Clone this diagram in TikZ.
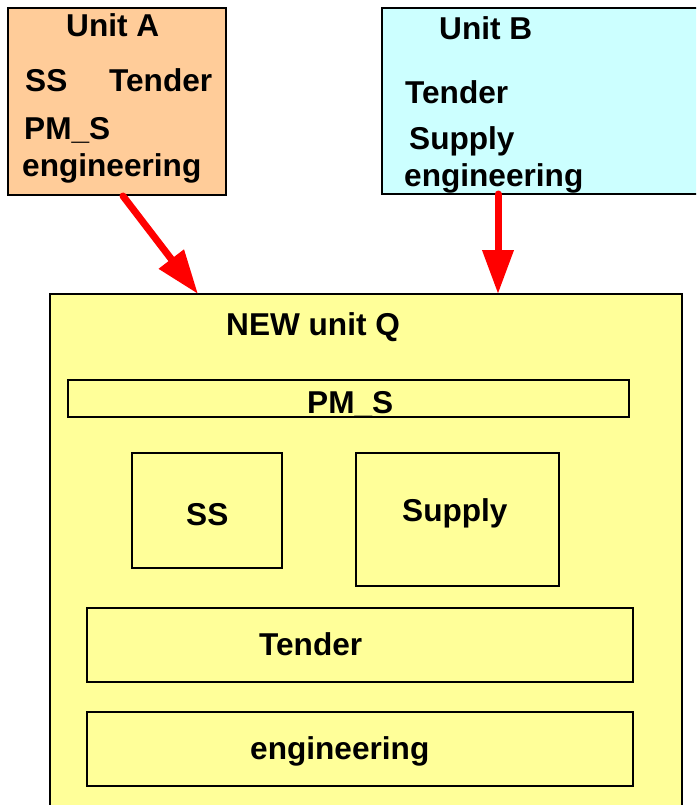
\documentclass[tikz,border=0pt]{standalone}
\usepackage{fontspec}
\setmainfont{Liberation Sans}
\usepackage{tikz}
\usetikzlibrary{arrows.meta}
\definecolor{unitAcol}{RGB}{255,204,153}
\definecolor{unitBcol}{RGB}{204,255,255}
\definecolor{newQcol}{RGB}{255,255,153}
\definecolor{flowcol}{RGB}{255,0,0}

\begin{document}
\begin{tikzpicture}[x=1pt,y=-1pt,
  box/.style={draw=black,line width=2pt,inner sep=0pt,outer sep=0pt},
  lbl/.style={anchor=base west,inner sep=0pt,font=\fontsize{31.6}{37}\selectfont\bfseries},
  flow/.style={draw=flowcol,line width=7pt,line cap=round,-{Triangle[length=44pt,width=30pt]}}]
\clip (0,0) rectangle (696,805);
\fill[white] (0,0) rectangle (696,805);
% the two old units
\node[box,fill=unitAcol,minimum width=218pt,minimum height=187pt] (unitA) at (117,101.5) {};
\node[box,fill=unitBcol,minimum width=318pt,minimum height=186pt] (unitB) at (541,101) {};
\node[lbl] (aTitle) at (66,37) {Unit A};
\node[lbl] (aSS) at (25,92) {SS};
\node[lbl] (aTender) at (109,92) {Tender};
\node[lbl] (aPMS) at (24,140) {PM\_S};
\node[lbl] (aEng) at (22,177) {engineering};
\node[lbl] (bTitle) at (439,40) {Unit B};
\node[lbl] (bTender) at (405,104) {Tender};
\node[lbl] (bSupply) at (409,150) {Supply};
\node[lbl] (bEng) at (404,186) {engineering};
% the new unit
\node[box,fill=newQcol,minimum width=632pt,minimum height=536pt] (newQ) at (366,562) {};
\node[lbl] (qTitle) at (226,335) {NEW unit Q};
\node[box,minimum width=561pt,minimum height=37pt] (pmsBar) at (348.5,398.5) {};
\node[lbl] (qPMS) at (307,413) {PM\_S};
\node[box,minimum width=150pt,minimum height=115pt] (ssBox) at (207,510.5) {};
\node[lbl] (qSS) at (186,525) {SS};
\node[box,minimum width=203pt,minimum height=133pt] (supplyBox) at (457.5,519.5) {};
\node[lbl] (qSupply) at (402,521) {Supply};
\node[box,minimum width=546pt,minimum height=74pt] (tenderBox) at (360,645) {};
\node[lbl] (qTender) at (259,655) {Tender};
\node[box,minimum width=546pt,minimum height=74pt] (engBox) at (360,749) {};
\node[lbl] (qEng) at (250,759) {engineering};
% merging arrows
\draw[flow] ([xshift=6pt,yshift=-1pt]unitA.south) -- ([xshift=-168pt]newQ.north);
\draw[flow] ([xshift=-43pt]unitB.south) -- ([xshift=132pt]newQ.north);
\end{tikzpicture}
\end{document}
